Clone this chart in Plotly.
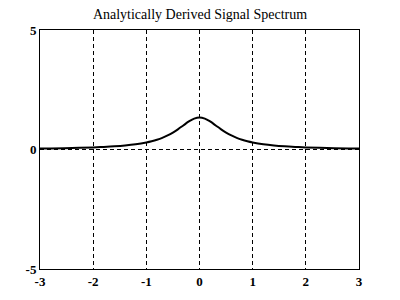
import plotly.graph_objects as go

x_vals = [-3.0, -2.8, -2.4, -2.0, -1.8, -1.6, -1.4, -1.2, -1.0, -0.9, -0.8, -0.7, -0.6, -0.5, -0.4, -0.3, -0.2, -0.1,
          0.0, 0.1, 0.2, 0.3, 0.4, 0.5, 0.6, 0.7, 0.8, 0.9, 1.0, 1.2, 1.4, 1.6, 1.8, 2.0, 2.4, 2.8, 3.0]
y_vals = [0.041, 0.046, 0.062, 0.088, 0.107, 0.133, 0.168, 0.219, 0.294, 0.345, 0.409, 0.488, 0.587, 0.709, 0.854, 1.015, 1.173, 1.294,
          1.34, 1.294, 1.173, 1.015, 0.854, 0.709, 0.587, 0.488, 0.409, 0.345, 0.294, 0.219, 0.168, 0.133, 0.107, 0.088, 0.062, 0.046, 0.041]
x_ticks = [-3, -2, -1, 0, 1, 2, 3]
y_ticks = [-5, 0, 5]

fig = go.Figure()
fig.add_trace(go.Scatter(x=x_vals, y=y_vals, mode="lines", line=dict(color="black", width=2, shape="spline"),
                         showlegend=False))

tick_font = dict(family="Liberation Serif", size=13, color="black", weight="bold")
axis_common = dict(showline=True, linecolor="black", linewidth=1, mirror=True, zeroline=False,
                   showgrid=True, gridcolor="black", gridwidth=1, griddash="4px,3px", ticks="",
                   tickfont=tick_font)
fig.update_xaxes(range=[-3, 3], tickvals=x_ticks, ticktext=[str(v) for v in x_ticks], **axis_common)
fig.update_yaxes(range=[-5, 5], tickvals=y_ticks, ticktext=[str(v) for v in y_ticks], **axis_common)

fig.update_layout(
    width=400, height=300,
    margin=dict(l=40, r=41, t=30, b=31),
    paper_bgcolor="white", plot_bgcolor="white",
    title=dict(text="Analytically Derived Signal Spectrum", x=0.5, xanchor="center", y=0.953, yanchor="middle",
               font=dict(family="Liberation Serif", size=14, color="black")),
)

fig.write_html("out.html")
